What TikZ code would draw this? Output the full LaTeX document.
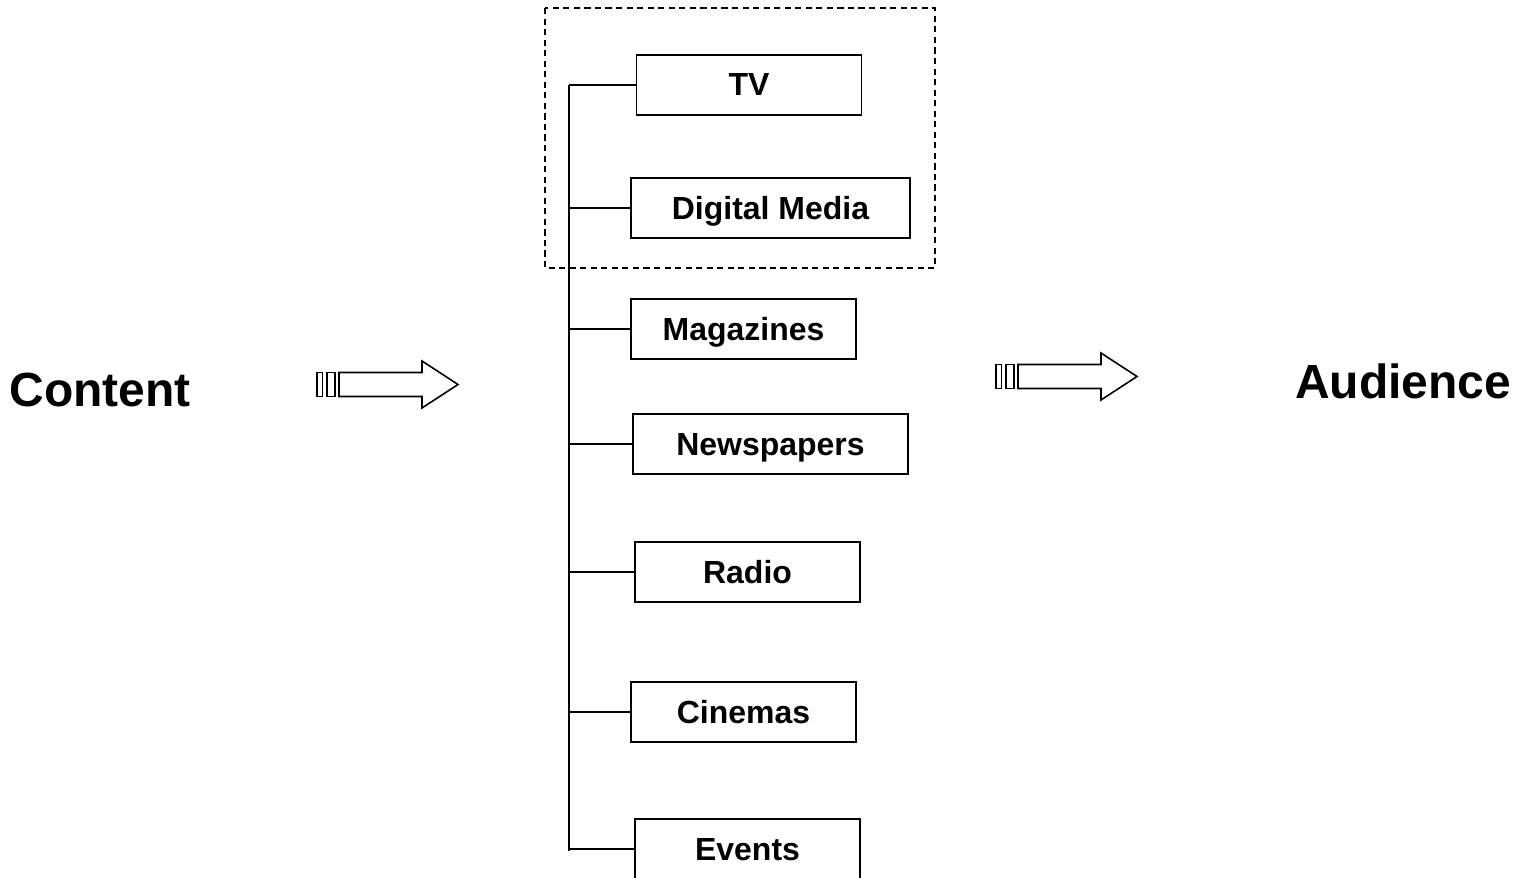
\documentclass[tikz,border=0pt]{standalone}
\usepackage{fontspec}
\setmainfont{Liberation Sans}
\usetikzlibrary{positioning}

\tikzset{
    medium/.style={draw, line width=1.1pt, minimum height=1.2cm, minimum width=4.5cm, inner sep=0pt,
        text depth=0pt, font=\fontsize{18.2}{21}\selectfont\bfseries},
    endpoint/.style={font=\fontsize{27.3}{32}\selectfont\bfseries},
    pics/blockarrow/.style={code={
        \path[draw, line width=0.9pt] (0,-12) rectangle (5.5,12);
        \path[draw, line width=0.9pt] (10,-12) rectangle (18,12);
        \path[draw, line width=0.9pt] (22,-12) -- (105,-12) -- (105,-23.5) -- (141,0)
            -- (105,23.5) -- (105,12) -- (22,12) -- cycle;
    }}
}

\begin{document}
\begin{tikzpicture}[x=0.02cm, y=-0.02cm]

        \useasboundingbox (0,0) rectangle (1527,878);

        \node[endpoint] (content) at (100,390) {Content};
        \node[endpoint] (audience) at (1403,381) {Audience};

        \node[medium] (tv) at (749,85) {TV};
        \node[medium, minimum width=5.58cm] (digital) at (770.5,208) {Digital Media};
        \node[medium] (magazines) at (743.5,329) {Magazines};
        \node[medium, minimum width=5.5cm] (newspapers) at (770.5,444) {Newspapers};
        \node[medium] (radio) at (747.5,572) {Radio};
        \node[medium] (cinemas) at (743.5,712) {Cinemas};
        \node[medium] (events) at (747.5,849) {Events};

        \coordinate (trunktop) at (569,85);
        \coordinate (trunkbot) at (569,851);

        % media group
        \path[draw, dashed, dash pattern=on 3.5pt off 2.5pt, line width=0.9pt] (545,8) rectangle (935,268);

        \path[draw, line width=1.1pt] (trunktop) -- (trunkbot);
        \foreach \m in {tv,digital,magazines,newspapers,radio,cinemas,events}
            \path[draw, line width=1.1pt] (trunktop |- \m.west) -- (\m.west);

        \pic at (317,384.5) {blockarrow};
        \pic at (996,376.5) {blockarrow};

\end{tikzpicture}
\end{document}
